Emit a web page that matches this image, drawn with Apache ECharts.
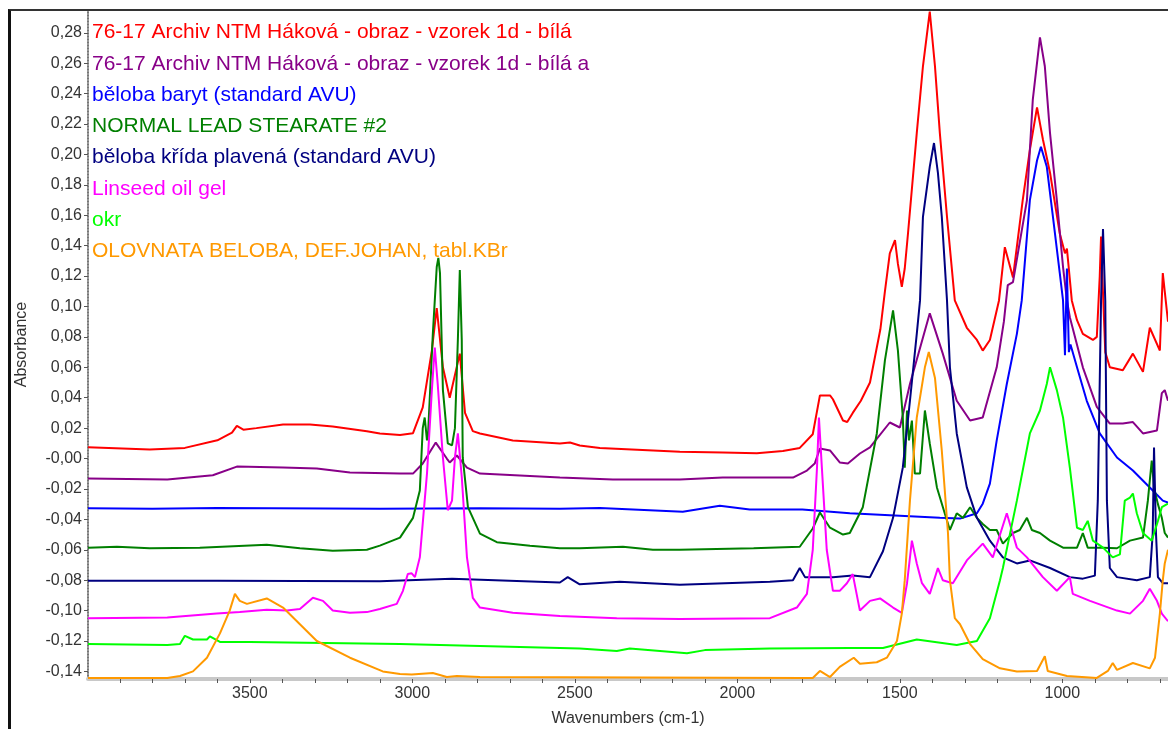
<!DOCTYPE html>
<html>
<head>
<meta charset="utf-8">
<script src="https://cdn.jsdelivr.net/npm/echarts@6/dist/echarts.min.js"></script>
<style>
  html, body { margin: 0; padding: 0; background: #fff; }
  #chart { position: absolute; left: 0; top: 0; width: 1168px; height: 729px; }
  #frame {
    position: absolute; left: 8px; top: 9px; width: 1300px; height: 900px;
    border-left: 3px solid #111; border-top: 2px solid #333; pointer-events: none;
  }
</style>
</head>
<body>
<div id="chart"></div>
<div id="frame"></div>
<script>
// spectra: [wavenumber cm-1, absorbance]
const seriesNames = [
  '76-17 Archiv NTM Háková - obraz - vzorek 1d - bílá',
  '76-17 Archiv NTM Háková - obraz - vzorek 1d - bílá a',
  'běloba baryt (standard AVU)',
  'NORMAL LEAD STEARATE #2',
  'běloba křída plavená (standard AVU)',
  'Linseed oil gel',
  'okr',
  'OLOVNATA BELOBA, DEF.JOHAN, tabl.KBr'
];
const seriesColors = ['#ff0000', '#880088', '#0000ff', '#007f00', '#000080', '#ff00ff', '#00ff00', '#ff9900'];

const redBila = [
  [3998, 0.0075], [3808, 0.006], [3700, 0.007], [3600, 0.012], [3555, 0.017], [3540, 0.0215], [3520, 0.019],
  [3480, 0.020], [3398, 0.0224], [3315, 0.0224], [3245, 0.021], [3140, 0.018], [3100, 0.0165], [3038, 0.0155],
  [2998, 0.0167], [2968, 0.0336], [2940, 0.071], [2925, 0.099], [2906, 0.060], [2885, 0.040], [2854, 0.069],
  [2838, 0.030], [2814, 0.018], [2792, 0.0165], [2691, 0.0119], [2546, 0.0099], [2515, 0.0105], [2485, 0.0086],
  [2423, 0.007], [2177, 0.0045], [2045, 0.004], [1940, 0.0035], [1860, 0.005], [1808, 0.007], [1768, 0.016],
  [1746, 0.0415], [1715, 0.0415], [1706, 0.039], [1675, 0.025], [1662, 0.024], [1645, 0.030], [1620, 0.038],
  [1592, 0.050], [1560, 0.085], [1546, 0.110], [1531, 0.135], [1515, 0.1437], [1506, 0.128], [1494, 0.113],
  [1485, 0.125], [1475, 0.148], [1448, 0.214], [1429, 0.258], [1408, 0.294], [1392, 0.258], [1377, 0.214],
  [1355, 0.159], [1331, 0.104], [1294, 0.086], [1263, 0.078], [1245, 0.071], [1223, 0.078], [1195, 0.104],
  [1177, 0.139], [1152, 0.119], [1122, 0.170], [1100, 0.203], [1078, 0.231], [1060, 0.210], [1038, 0.188],
  [1008, 0.148], [992, 0.135], [986, 0.138], [971, 0.104], [955, 0.091], [937, 0.082], [906, 0.078],
  [894, 0.080], [885, 0.120], [881, 0.146], [877, 0.120], [868, 0.070], [854, 0.060], [814, 0.058],
  [783, 0.069], [752, 0.057], [731, 0.086], [700, 0.071], [691, 0.122], [685, 0.110], [675, 0.090]
];
const purpleBilaA = [
  [3998, -0.0132], [3754, -0.0138], [3614, -0.011], [3540, -0.0053], [3398, -0.0059], [3294, -0.0066],
  [3192, -0.0092], [3038, -0.0099], [2998, -0.0099], [2968, -0.0033], [2928, 0.0105], [2894, 0.0],
  [2885, -0.0026], [2863, 0.002], [2832, -0.006], [2792, -0.0099], [2546, -0.0125], [2383, -0.0138],
  [2177, -0.0138], [2045, -0.0125], [1829, -0.0125], [1786, -0.0079], [1762, -0.0033], [1746, 0.0066],
  [1715, 0.0053], [1685, -0.0026], [1660, -0.0033], [1623, 0.0033], [1592, 0.0073], [1531, 0.0237],
  [1500, 0.0204], [1469, 0.049], [1408, 0.0955], [1368, 0.069], [1325, 0.038], [1284, 0.025], [1245, 0.027],
  [1202, 0.060], [1180, 0.090], [1168, 0.114], [1152, 0.116], [1109, 0.170], [1091, 0.236], [1069, 0.277],
  [1054, 0.258], [1038, 0.214], [1017, 0.170], [998, 0.126], [986, 0.104], [977, 0.093], [937, 0.060],
  [894, 0.034], [854, 0.023], [814, 0.023], [783, 0.024], [752, 0.0165], [709, 0.0185], [694, 0.043],
  [685, 0.045], [675, 0.038]
];
const blueBaryt = [
  [3998, -0.0327], [3800, -0.033], [3600, -0.0325], [3100, -0.033], [2792, -0.0327], [2546, -0.033],
  [2423, -0.0325], [2168, -0.035], [2054, -0.031], [1962, -0.0335], [1800, -0.0335], [1654, -0.036],
  [1377, -0.0389], [1315, -0.0395], [1263, -0.036], [1245, -0.0297], [1223, -0.0165], [1202, 0.0119],
  [1171, 0.049], [1140, 0.082], [1125, 0.104], [1100, 0.170], [1078, 0.196], [1066, 0.205], [1048, 0.192],
  [1029, 0.159], [1008, 0.122], [998, 0.104], [992, 0.068], [986, 0.125], [980, 0.070], [975, 0.075],
  [955, 0.060], [925, 0.038], [885, 0.0165], [832, 0.0007], [783, -0.0079], [731, -0.0191], [691, -0.0277],
  [675, -0.029]
];
const greenStearate = [
  [3998, -0.0587], [3909, -0.058], [3808, -0.059], [3654, -0.0587], [3448, -0.0567], [3346, -0.059],
  [3245, -0.0606], [3140, -0.060], [3100, -0.0573], [3038, -0.052], [2998, -0.039], [2977, -0.021],
  [2968, 0.020], [2962, 0.027], [2955, 0.012], [2952, 0.015], [2937, 0.082], [2925, 0.126], [2920, 0.132],
  [2915, 0.122], [2906, 0.045], [2891, 0.010], [2878, 0.0086], [2869, 0.020], [2860, 0.078], [2854, 0.124],
  [2848, 0.078], [2845, 0.0007], [2829, -0.032], [2792, -0.0494], [2740, -0.055], [2638, -0.0573],
  [2546, -0.059], [2485, -0.059], [2352, -0.058], [2260, -0.060], [2177, -0.060], [1950, -0.059],
  [1808, -0.058], [1768, -0.046], [1746, -0.0355], [1740, -0.036], [1715, -0.0455], [1675, -0.050],
  [1654, -0.049], [1614, -0.032], [1571, 0.0165], [1546, 0.0646], [1521, 0.0975], [1506, 0.071],
  [1491, 0.027], [1485, -0.006], [1478, 0.0316], [1472, 0.0119], [1463, 0.025], [1454, -0.0099],
  [1438, -0.0099], [1423, 0.0316], [1408, 0.0099], [1386, -0.019], [1362, -0.036], [1346, -0.047],
  [1325, -0.036], [1306, -0.039], [1284, -0.032], [1263, -0.039], [1245, -0.043], [1223, -0.047],
  [1202, -0.047], [1183, -0.056], [1152, -0.049], [1131, -0.047], [1109, -0.039], [1094, -0.047],
  [1069, -0.049], [1038, -0.054], [998, -0.0586], [955, -0.0586], [937, -0.049], [922, -0.0586],
  [875, -0.0586], [832, -0.059], [792, -0.054], [752, -0.052], [737, -0.0277], [725, -0.0013],
  [718, -0.019], [706, -0.030], [694, -0.039], [685, -0.049], [675, -0.052]
];
const navyKrida = [
  [3998, -0.0804], [3600, -0.0804], [3100, -0.0807], [2878, -0.079], [2546, -0.0815], [2522, -0.078],
  [2485, -0.0827], [2362, -0.081], [2177, -0.083], [1900, -0.081], [1829, -0.080], [1808, -0.072],
  [1792, -0.078], [1706, -0.078], [1645, -0.077], [1592, -0.078], [1552, -0.061], [1521, -0.039],
  [1491, -0.006], [1469, 0.038], [1448, 0.082], [1438, 0.104], [1429, 0.159], [1408, 0.192], [1395, 0.2075],
  [1383, 0.188], [1371, 0.159], [1355, 0.104], [1346, 0.060], [1325, 0.0165], [1294, -0.019], [1263, -0.039],
  [1223, -0.054], [1183, -0.065], [1140, -0.069], [1100, -0.067], [1038, -0.072], [977, -0.078],
  [937, -0.079], [900, -0.077], [891, -0.0277], [881, 0.104], [875, 0.151], [868, 0.104], [863, -0.0277],
  [854, -0.072], [832, -0.078], [771, -0.080], [731, -0.078], [722, -0.049], [718, 0.0073], [712, -0.049],
  [706, -0.078], [691, -0.082], [675, -0.082]
];
const magentaLinseed = [
  [3998, -0.105], [3754, -0.1045], [3602, -0.102], [3531, -0.101], [3448, -0.0995], [3386, -0.100],
  [3346, -0.099], [3306, -0.0916], [3275, -0.0936], [3245, -0.100], [3192, -0.1015], [3140, -0.101],
  [3100, -0.099], [3048, -0.0956], [3029, -0.087], [3014, -0.076], [3002, -0.0755], [2992, -0.078],
  [2977, -0.065], [2955, -0.0099], [2940, 0.045], [2931, 0.073], [2922, 0.049], [2906, 0.0007],
  [2891, -0.034], [2878, -0.0277], [2869, 0.0007], [2860, 0.0165], [2848, -0.012], [2832, -0.065],
  [2814, -0.0916], [2792, -0.098], [2691, -0.1015], [2546, -0.1035], [2371, -0.105], [2177, -0.1055],
  [1900, -0.105], [1817, -0.098], [1786, -0.089], [1768, -0.060], [1755, -0.006], [1749, 0.027],
  [1740, -0.006], [1725, -0.060], [1706, -0.087], [1685, -0.087], [1663, -0.082], [1645, -0.076],
  [1623, -0.100], [1592, -0.0936], [1561, -0.092], [1521, -0.098], [1494, -0.1015], [1478, -0.082],
  [1463, -0.054], [1448, -0.069], [1432, -0.082], [1408, -0.089], [1383, -0.072], [1368, -0.080],
  [1337, -0.082], [1294, -0.067], [1245, -0.056], [1214, -0.065], [1171, -0.036], [1140, -0.0586],
  [1109, -0.065], [1060, -0.078], [1017, -0.087], [977, -0.078], [968, -0.089], [915, -0.0936],
  [832, -0.100], [792, -0.102], [752, -0.0936], [731, -0.0857], [709, -0.0936], [694, -0.102], [675, -0.107]
];
const limeOkr = [
  [3998, -0.122], [3754, -0.1226], [3715, -0.122], [3700, -0.1166], [3675, -0.119], [3632, -0.119],
  [3623, -0.117], [3592, -0.1206], [3500, -0.1206], [3038, -0.122], [2546, -0.1246], [2485, -0.125],
  [2371, -0.1266], [2331, -0.125], [2238, -0.1266], [2155, -0.128], [2100, -0.126], [1900, -0.125],
  [1654, -0.1246], [1552, -0.1246], [1448, -0.119], [1325, -0.1226], [1263, -0.120], [1223, -0.105],
  [1192, -0.080], [1183, -0.072], [1140, -0.0277], [1100, 0.0165], [1069, 0.0316], [1048, 0.049],
  [1038, 0.060], [1017, 0.045], [998, 0.027], [977, -0.006], [955, -0.0455], [937, -0.047], [922, -0.041],
  [906, -0.054], [875, -0.0586], [845, -0.065], [823, -0.063], [808, -0.0277], [792, -0.0257],
  [783, -0.023], [771, -0.036], [752, -0.049], [725, -0.054], [706, -0.041], [694, -0.032], [675, -0.0297]
];
const orangeOlovnata = [
  [3998, -0.1443], [3754, -0.1443], [3715, -0.143], [3675, -0.140], [3632, -0.131], [3592, -0.115],
  [3562, -0.100], [3546, -0.089], [3531, -0.0936], [3509, -0.0956], [3448, -0.092], [3398, -0.098],
  [3346, -0.109], [3294, -0.120], [3192, -0.131], [3091, -0.140], [3038, -0.1417], [3002, -0.142],
  [2937, -0.141], [2894, -0.1437], [2863, -0.143], [2792, -0.1437], [1800, -0.1443], [1768, -0.1443],
  [1746, -0.1397], [1715, -0.1437], [1685, -0.137], [1642, -0.131], [1623, -0.135], [1571, -0.134],
  [1540, -0.131], [1509, -0.120], [1494, -0.102], [1485, -0.080], [1469, -0.0277], [1448, 0.027],
  [1423, 0.060], [1411, 0.070], [1392, 0.053], [1371, 0.0053], [1352, -0.049], [1346, -0.080],
  [1331, -0.105], [1315, -0.109], [1284, -0.122], [1245, -0.132], [1192, -0.138], [1140, -0.140],
  [1078, -0.1397], [1054, -0.130], [1045, -0.1397], [986, -0.143], [894, -0.1443], [860, -0.1397],
  [845, -0.1345], [832, -0.139], [783, -0.1345], [731, -0.138], [715, -0.131], [700, -0.102],
  [691, -0.080], [685, -0.069], [675, -0.060]
];
const spectra = [redBila, purpleBilaA, blueBaryt, greenStearate, navyKrida, magentaLinseed, limeOkr, orangeOlovnata];

const xLabelValues = [3500, 3000, 2500, 2000, 1500, 1000];
const xTickValues = [3900, 3800, 3700, 3600, 3500, 3400, 3300, 3200, 3100, 3000, 2900, 2800, 2700, 2600, 2500,
  2400, 2300, 2200, 2100, 2000, 1900, 1800, 1700, 1600, 1500, 1400, 1300, 1200, 1100, 1000, 900, 800, 700];
const yLabelValues = [-0.14, -0.12, -0.10, -0.08, -0.06, -0.04, -0.02, 0, 0.02, 0.04, 0.06, 0.08, 0.10,
  0.12, 0.14, 0.16, 0.18, 0.20, 0.22, 0.24, 0.26, 0.28];

const font = '"Liberation Sans", Arial, sans-serif';
const chart = echarts.init(document.getElementById('chart'), null, { renderer: 'canvas' });

const option = {
  animation: false,
  grid: { left: 88, right: 0, top: 10, bottom: 50, containLabel: false, outerBoundsMode: 'none' },
  legend: {
    orient: 'vertical',
    left: 82,
    top: 17,
    icon: 'none',
    itemWidth: 0,
    itemHeight: 21,
    itemGap: 10.25,
    selectedMode: false,
    textStyle: { fontFamily: font, fontSize: 21, lineHeight: 21 },
    data: seriesNames.map((n, i) => ({ name: n, textStyle: { color: seriesColors[i] } }))
  },
  xAxis: {
    type: 'value',
    inverse: true,
    min: 675,
    max: 3998,
    name: 'Wavenumbers (cm-1)',
    nameLocation: 'middle',
    nameGap: 32,
    nameTextStyle: { fontFamily: font, fontSize: 16, color: '#333' },
    axisLine: { show: true, onZero: false, lineStyle: { color: '#c8c8c8', width: 4 } },
    axisTick: { show: true, length: 4, customValues: xTickValues, lineStyle: { color: '#555', width: 1 } },
    axisLabel: {
      customValues: xLabelValues,
      margin: 7,
      fontFamily: font,
      fontSize: 16,
      color: '#333',
      formatter: v => String(v)
    },
    splitLine: { show: false }
  },
  yAxis: {
    type: 'value',
    min: -0.145,
    max: 0.295,
    name: 'Absorbance',
    nameLocation: 'middle',
    nameGap: 58,
    nameTextStyle: { fontFamily: font, fontSize: 16, color: '#333' },
    axisLine: { show: true, onZero: false, lineStyle: { color: '#777', width: 2, type: [1, 2] } },
    axisTick: { show: true, length: 4, customValues: yLabelValues, lineStyle: { color: '#555' } },
    axisLabel: {
      customValues: yLabelValues,
      margin: 6,
      fontFamily: font,
      fontSize: 16,
      color: '#333',
      formatter: v => Math.abs(v) < 1e-9 ? '-0,00' : v.toFixed(2).replace('.', ',')
    },
    splitLine: { show: false }
  },
  series: spectra.map((d, i) => ({
    name: seriesNames[i],
    type: 'line',
    data: d,
    symbol: 'none',
    smooth: false,
    color: seriesColors[i],
    lineStyle: { color: seriesColors[i], width: 2 },
    emphasis: { disabled: true }
  }))
};

chart.setOption(option);
</script>
</body>
</html>
